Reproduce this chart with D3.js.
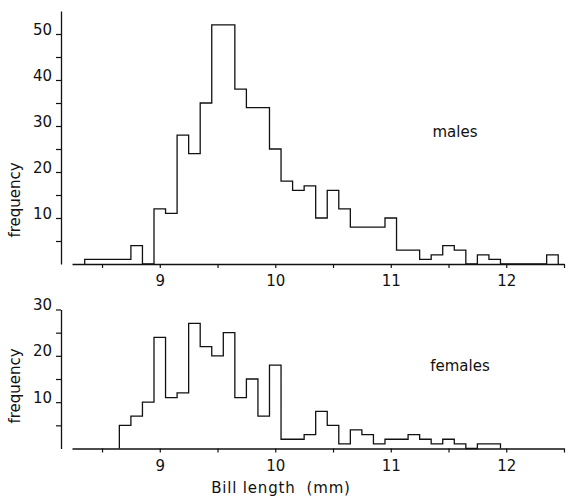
<!DOCTYPE html>
<html>
<head>
<meta charset="utf-8">
<script src="https://cdn.jsdelivr.net/npm/d3@7"></script>
<style>
  html, body { margin: 0; padding: 0; background: #fff; }
  svg text { font-family: "DejaVu Sans", sans-serif; fill: #111; }
</style>
</head>
<body>
<svg id="chart" width="569" height="497"></svg>
<script>
// ---- data (bin centres in mm, bin width 0.1 mm) ----
const maleBins = [8.4,8.5,8.6,8.7,8.8,8.9,9.0,9.1,9.2,9.3,9.4,9.5,9.6,9.7,9.8,9.9,10.0,10.1,10.2,10.3,10.4,10.5,10.6,10.7,10.8,10.9,11.0,11.1,11.2,11.3,11.4,11.5,11.6,11.7,11.8,11.9,12.0,12.1,12.2,12.3,12.4];
const maleCounts = [1,1,1,1,4,0,12,11,28,24,35,52,52,38,34,34,25,18,16,17,10,16,12,8,8,8,10,3,3,1,2,4,3,0,2,1,0,0,0,0,2];
const femaleBins = [8.7,8.8,8.9,9.0,9.1,9.2,9.3,9.4,9.5,9.6,9.7,9.8,9.9,10.0,10.1,10.2,10.3,10.4,10.5,10.6,10.7,10.8,10.9,11.0,11.1,11.2,11.3,11.4,11.5,11.6,11.7,11.8,11.9];
const femaleCounts = [5,7,10,24,11,12,27,22,20,25,11,15,7,18,2,2,3,8,5,1,4,3,1,2,2,3,2,1,2,1,0,1,1];
const binWidth = 0.1;
const xTicks = [8.5,9,9.5,10,10.5,11,11.5,12,12.5];
const xTickLabels = ["", "9", "", "10", "", "11", "", "12", ""];
const maleYTicks = [5,10,15,20,25,30,35,40,45,50];
const maleYLabels = ["", "10", "", "20", "", "30", "", "40", "", "50"];
const femaleYTicks = [5,10,15,20,25,30];
const femaleYLabels = ["", "10", "", "20", "", "30"];

const svg = d3.select("#chart");
const x = d3.scaleLinear().domain([8.24, 12.5]).range([72, 564]);

function panel(bins, counts, yDomain, yRange, yTicks, yLabels, label, labelPos, yTitleMid) {
  const y = d3.scaleLinear().domain(yDomain).range(yRange);
  const g = svg.append("g");

  // x axis
  const xa = g.append("g").attr("transform", `translate(0,${y(0)})`)
    .call(d3.axisBottom(x).tickValues(xTicks).tickSize(4).tickSizeOuter(0)
      .tickFormat((d, i) => xTickLabels[i]));
  xa.select(".domain").attr("stroke", "#111").attr("stroke-width", 1.3);
  xa.selectAll(".tick line").attr("stroke", "#111").attr("stroke-width", 1.2);
  xa.selectAll(".tick text").attr("font-size", 15).attr("dy", "1.0em")
    .attr("font-family", "DejaVu Sans").attr("fill", "#111");

  // y axis
  const ya = g.append("g").attr("transform", `translate(61,0)`)
    .call(d3.axisLeft(y).tickValues(yTicks).tickSize(5).tickSizeOuter(0)
      .tickFormat((d, i) => yLabels[i]));
  ya.select(".domain").attr("stroke", "#111").attr("stroke-width", 1.3);
  ya.selectAll(".tick line").attr("stroke", "#111").attr("stroke-width", 1.2);
  ya.selectAll(".tick text").attr("font-size", 15).attr("dy", "0").attr("x", -9)
    .attr("font-family", "DejaVu Sans").attr("fill", "#111");

  // histogram outline
  const pts = [[bins[0] - binWidth / 2, 0]];
  bins.forEach((b, i) => {
    pts.push([b - binWidth / 2, counts[i]]);
    pts.push([b + binWidth / 2, counts[i]]);
  });
  pts.push([bins[bins.length - 1] + binWidth / 2, 0]);
  const line = d3.line().x(d => x(d[0])).y(d => y(d[1]));
  g.append("path").attr("d", line(pts)).attr("fill", "none")
    .attr("stroke", "#111").attr("stroke-width", 1.3);

  g.append("text").attr("x", labelPos[0]).attr("y", labelPos[1])
    .attr("font-size", 15).attr("text-anchor", "middle").text(label);

  g.append("text").attr("transform", `translate(20,${yTitleMid}) rotate(-90)`)
    .attr("font-size", 15).attr("text-anchor", "middle").text("frequency");
}

panel(maleBins, maleCounts, [0, 55], [264, 11], maleYTicks, maleYLabels, "males", [455, 137], 200);
panel(femaleBins, femaleCounts, [0, 30], [448.5, 309.5], femaleYTicks, femaleYLabels, "females", [460, 371], 386);

svg.append("text").attr("x", 281).attr("y", 493).attr("font-size", 15)
  .attr("text-anchor", "middle").attr("letter-spacing", 0.8)
  .text("Bill length  (mm)").attr("xml:space", "preserve").style("white-space", "pre");
</script>
</body>
</html>
